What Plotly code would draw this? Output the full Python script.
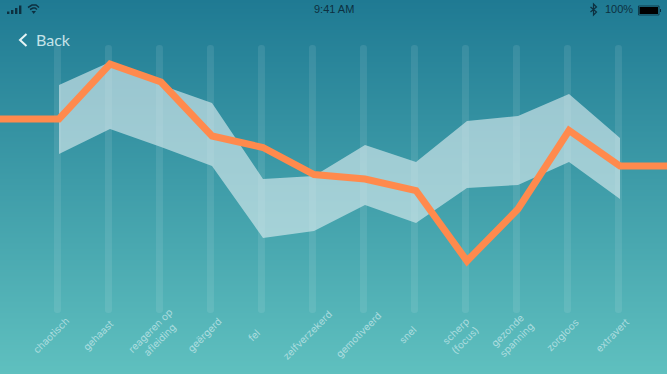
import plotly.graph_objects as go

W, H = 667, 374

# ---- data (value axis runs 0..374, category axis is the index of each trait)
categories = ["chaotisch", "gehaast", "reageren op<br>afleiding", "geërgerd", "fel",
              "zelfverzekerd", "gemotiveerd", "snel", "scherp<br>(focus)",
              "gezonde<br>spanning", "zorgloos", "extravert"]
score = [255, 310, 292, 238, 226.5, 199.5, 195, 183.5, 113, 165, 243.5, 208]
band_upper = [289, 312, 289, 271, 195, 198, 229, 212, 253, 258, 280, 236]
band_lower = [220, 245, 227, 208, 136, 143, 169, 151, 186, 189, 212, 175]
rail_low = [61] * 12
rail_high = [329] * 12

idx = list(range(len(categories)))
# the line runs on past both ends at its first and last value
line_x = [-2] + idx + [13]
line_y = [score[0]] + score + [score[-1]]

fig = go.Figure()
fig.add_trace(go.Heatmap(
    x=[-2, 13], y=[0, 374], z=[[0, 0], [1, 1]], zsmooth="best", showscale=False,
    zmin=0, zmax=1, hoverinfo="skip",
    colorscale=[[0, "#5fc0bf"], [1, "#1f7a93"]],
))
fig.add_trace(go.Bar(
    x=idx, y=[h - l for h, l in zip(rail_high, rail_low)], base=rail_low,
    width=7 / 51, offset=-0.0985, marker=dict(color="rgba(255,255,255,0.09)", line_width=0),
    hoverinfo="skip",
))
fig.add_trace(go.Scatter(
    x=idx + idx[::-1], y=band_upper + band_lower[::-1], mode="lines", fill="toself",
    fillcolor="rgba(222,238,241,0.62)", line=dict(width=0), hoverinfo="skip",
))
fig.add_trace(go.Scatter(
    x=line_x, y=line_y, mode="lines", line=dict(color="#ff8a4d", width=7), hoverinfo="skip",
))

label_shift = [-8, -12, -7, -8, -9, -7, -7, -9, -7, -7, -7, -8]
annotations = []
for i, c in enumerate(categories):
    annotations.append(dict(
        x=i, y=39, xref="x", yref="y", text=c, showarrow=False, textangle=-45,
        xshift=label_shift[i], xanchor="center", yanchor="middle", align="center",
        font=dict(family="Inter, Lato, sans-serif", size=10, color="rgba(200,232,235,0.75)"),
    ))


def px(x, y):
    return x / W, 1 - y / H


def label(x, y, text, size, color, family="Liberation Sans, sans-serif", anchor="center"):
    xp, yp = px(x, y)
    annotations.append(dict(x=xp, y=yp, xref="paper", yref="paper", text=text, showarrow=False,
                            xanchor=anchor, yanchor="middle",
                            font=dict(family=family, size=size, color=color)))


DARK = "#0d3040"
label(333.5, 9.5, "9:41 AM", 11, DARK)
label(634.5, 9.5, "100%", 11, DARK, anchor="right")
label(34, 40, "Back", 16, "#c5e3e8", family="Lato, sans-serif", anchor="left")

shapes = []


def path(d, **kw):
    shapes.append(dict(type="path", path=d, xref="paper", yref="paper", layer="above", **kw))


def P(points, close=False):
    s = ""
    for n, (x, y) in enumerate(points):
        a, b = px(x, y)
        s += ("M" if n == 0 else "L") + f"{a:.5f},{b:.5f} "
    return s + ("Z" if close else "")


def rect(x0, y0, x1, y1, fill):
    path(P([(x0, y0), (x1, y0), (x1, y1), (x0, y1)], True), fillcolor=fill, line_width=0)


# signal bars
for x0, top in [(7, 11.5), (11, 10), (15, 8), (19, 5.5)]:
    rect(x0, top, x0 + 2.4, 14, DARK)
# wifi
path(P([(28, 7.5), (32, 5), (36, 5), (39, 7.5)]), line=dict(color=DARK, width=1.5))
path(P([(30, 9.5), (33, 8), (35, 8), (37, 9.5)]), line=dict(color=DARK, width=1.5))
path(P([(31.5, 11), (36, 11), (33.7, 14)], True), fillcolor=DARK, line_width=0)
# bluetooth
path(P([(590.5, 7), (596.5, 12), (593.5, 15), (593.5, 4), (596.5, 7), (590.5, 12)]),
     line=dict(color=DARK, width=1.2))
# battery
path(P([(638.5, 6), (659, 6), (659, 15), (638.5, 15)], True), fillcolor="rgba(0,0,0,0)",
     line=dict(color=DARK, width=0.8))
rect(639.5, 7, 658, 14, "#000000")
rect(660, 9, 661, 12, DARK)
# back chevron
path(P([(26.5, 34), (20, 40), (26.5, 46)]), line=dict(color="#e6f4f5", width=2))

fig.update_layout(
    width=W, height=H, margin=dict(l=0, r=0, t=0, b=0), showlegend=False,
    xaxis=dict(range=[-59 / 51, (W - 59) / 51], visible=False, fixedrange=True),
    yaxis=dict(range=[0, 374], visible=False, fixedrange=True),
    barcornerradius=3, annotations=annotations, shapes=shapes,
    paper_bgcolor="#3d9aa6", plot_bgcolor="rgba(0,0,0,0)",
)
fig.write_html("out.html", config=dict(displayModeBar=False),
               post_script="document.body.style.margin='0';document.documentElement.style.overflow='hidden';")
